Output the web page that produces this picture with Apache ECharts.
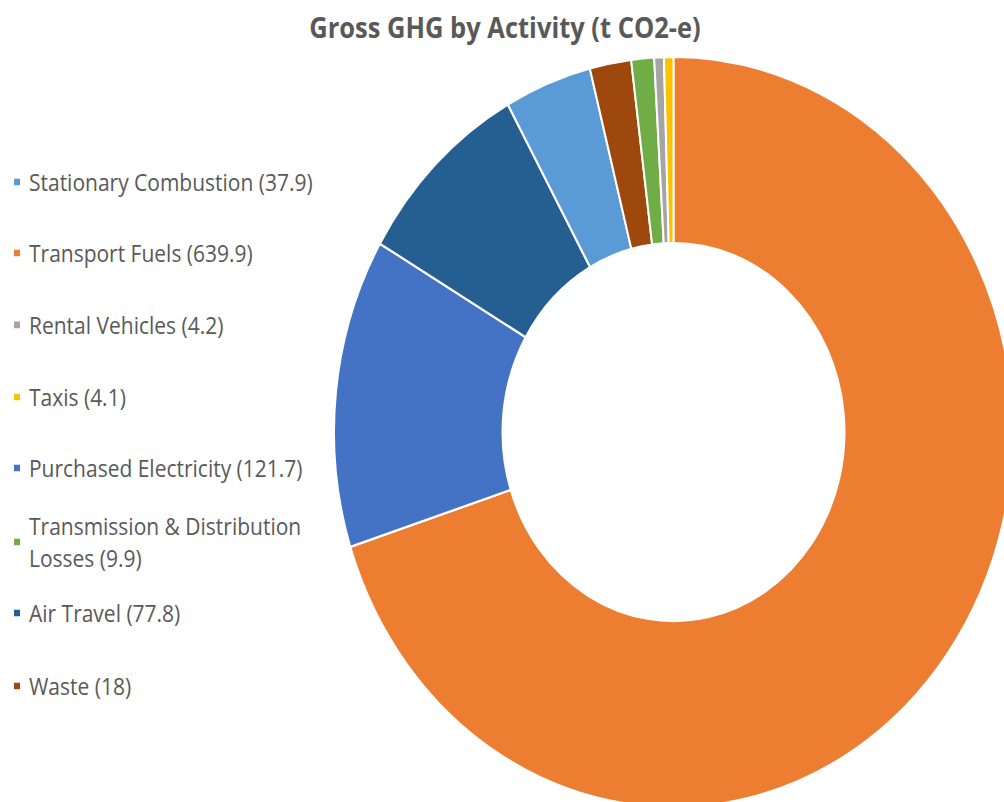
<!DOCTYPE html>
<html>
<head>
<meta charset="utf-8">
<script src="https://cdn.jsdelivr.net/npm/echarts@6/dist/echarts.min.js"></script>
<style>
  html, body { margin: 0; padding: 0; background: #ffffff; overflow: hidden; }
  #wrap { width: 1004px; height: 802px; overflow: hidden; position: relative; }
  #chart { width: 1004px; height: 726px; transform: scaleY(1.105); transform-origin: 0 0; }
</style>
</head>
<body>
<div id="wrap"><div id="chart"></div></div>
<script>
// ---- Data ----
const titleText = 'Gross GHG by Activity (t CO2-e)';
const legendNames = ['Stationary Combustion', 'Transport Fuels', 'Rental Vehicles', 'Taxis',
  'Purchased Electricity', 'Transmission & Distribution Losses', 'Air Travel', 'Waste'];
const legendLabels = ['Stationary Combustion (37.9)', 'Transport Fuels (639.9)', 'Rental Vehicles (4.2)', 'Taxis (4.1)',
  'Purchased Electricity (121.7)', 'Transmission & Distribution\nLosses (9.9)', 'Air Travel (77.8)', 'Waste (18)'];
const values = [37.9, 639.9, 4.2, 4.1, 121.7, 9.9, 77.8, 18];
const colors = ['#5B9BD5', '#ED7D31', '#A5A5A5', '#FFC000', '#4472C4', '#70AD47', '#255E91', '#9E480E'];
// order of slices clockwise from 12 o'clock (largest first)
const sliceOrder = ['Transport Fuels', 'Purchased Electricity', 'Air Travel', 'Stationary Combustion',
  'Waste', 'Transmission & Distribution Losses', 'Rental Vehicles', 'Taxis'];

// ---- Layout (unscaled coordinates) ----
const legendCenters = [164.7, 229, 294, 359.3, 423.5, 490.5, 554.8, 620.8];
const legendFont = 21, legendLine = 29;

const pieData = sliceOrder.map(n => {
  const i = legendNames.indexOf(n);
  return { name: n, value: values[i], itemStyle: { color: colors[i] } };
});

const legends = legendNames.map((n, i) => {
  const lines = legendLabels[i].split('\n').length;
  return {
    orient: 'vertical',
    left: 12,
    top: legendCenters[i] - lines * legendLine / 2,
    padding: 0,
    data: [n],
    icon: 'rect',
    itemWidth: 8,
    itemHeight: 8,
    selectedMode: false,
    formatter: () => legendLabels[i],
    textStyle: {
      color: '#595959',
      fontSize: legendFont,
      lineHeight: legendLine,
      fontFamily: 'Open Sans',
      padding: [0, 0, 0, 3]
    }
  };
});

const chart = echarts.init(document.getElementById('chart'), null, { renderer: 'svg' });
chart.setOption({
  animation: false,
  color: colors,
  title: {
    text: titleText,
    left: 505,
    top: 11,
    padding: 0,
    textAlign: 'center',
    textStyle: { color: '#595959', fontSize: 25.5, lineHeight: 27, fontWeight: 'bold', fontFamily: 'Open Sans' }
  },
  legend: legends,
  series: [{
    type: 'pie',
    center: [673.5, 391],
    radius: [171, 339.5],
    startAngle: 90,
    clockwise: true,
    avoidLabelOverlap: false,
    label: { show: false },
    labelLine: { show: false },
    emphasis: { disabled: true },
    itemStyle: { borderColor: '#ffffff', borderWidth: 2 },
    data: pieData
  }]
});
</script>
</body>
</html>
